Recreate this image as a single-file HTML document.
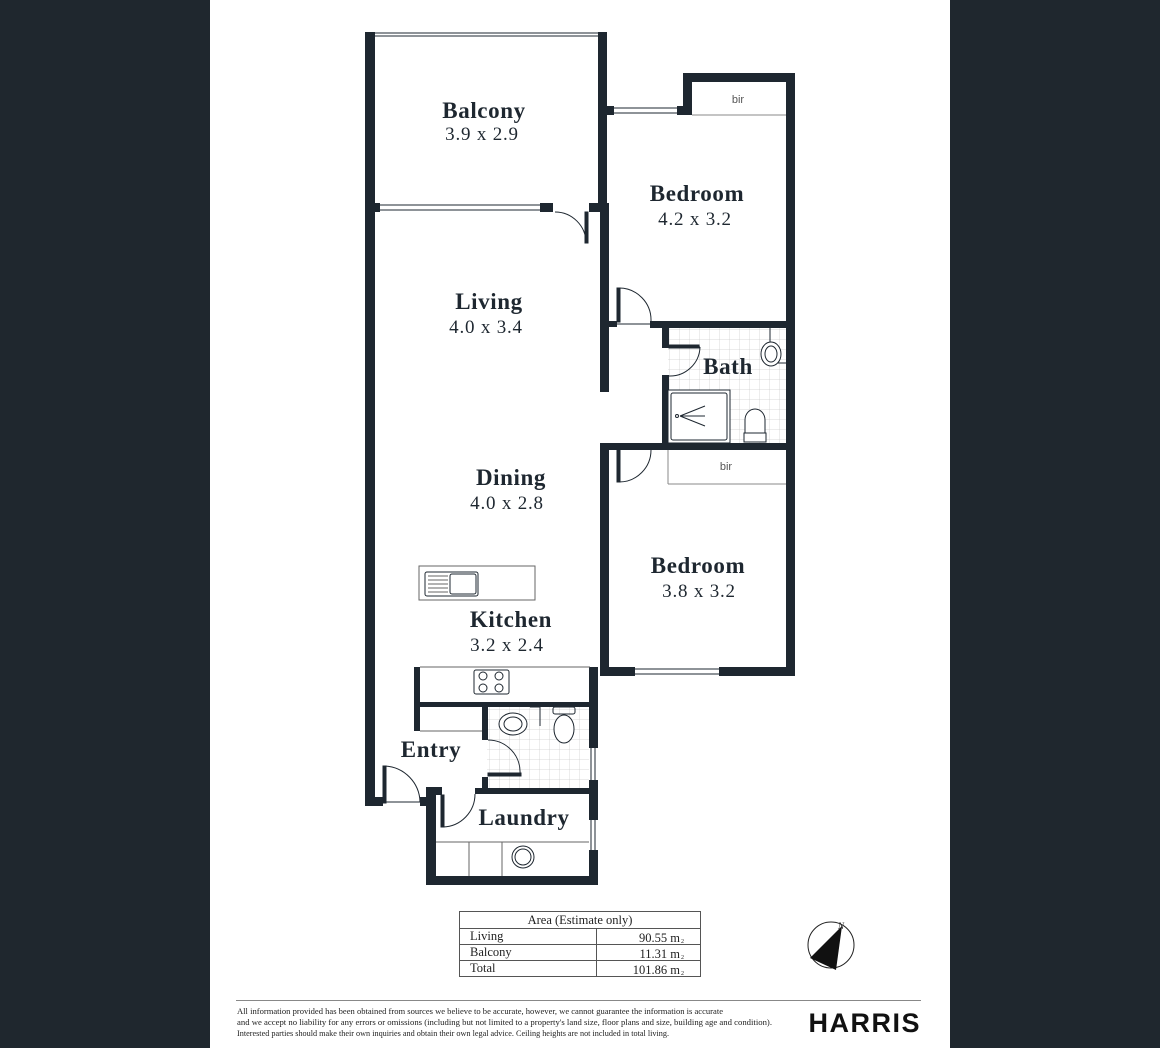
<!DOCTYPE html>
<html><head><meta charset="utf-8"><style>
html,body{margin:0;padding:0;background:#1f272e;}
svg{display:block}
</style></head><body>
<svg width="1160" height="1048" viewBox="0 0 1160 1048" xmlns="http://www.w3.org/2000/svg">
<rect x="0" y="0" width="1160" height="1048" fill="#1f272e"/>
<rect x="210" y="0" width="740" height="1048" fill="#fff"/>
<defs>
<pattern id="tile" width="10" height="10" patternUnits="userSpaceOnUse"><path d="M10 0V10H0" fill="none" stroke="#ccc" stroke-width="0.7"/></pattern>
</defs>
<rect x="668" y="328" width="118" height="115" fill="url(#tile)"/>
<rect x="487" y="707" width="102" height="81" fill="url(#tile)"/>
<g fill="#1e2730">
<rect x="365" y="32" width="10" height="774"/>
<rect x="598" y="32" width="9" height="180"/>
<rect x="365" y="203" width="15" height="9"/>
<rect x="540" y="203" width="13" height="9"/>
<rect x="589" y="203" width="18" height="9"/>
<rect x="600" y="203" width="9" height="189"/>
<rect x="607" y="106" width="7" height="9"/>
<rect x="677" y="106" width="15" height="9"/>
<rect x="683" y="73" width="9" height="42"/>
<rect x="683" y="73" width="112" height="9"/>
<rect x="786" y="73" width="9" height="602"/>
<rect x="600" y="321" width="17" height="6"/>
<rect x="650" y="321" width="145" height="7"/>
<rect x="662" y="321" width="7" height="27"/>
<rect x="662" y="375" width="7" height="75"/>
<rect x="600" y="443" width="195" height="7"/>
<rect x="600" y="443" width="9" height="232"/>
<rect x="600" y="667" width="35" height="9"/>
<rect x="719" y="667" width="76" height="9"/>
<rect x="589" y="667" width="9" height="218"/>
<rect x="414" y="667" width="6" height="64"/>
<rect x="414" y="702" width="176" height="5"/>
<rect x="482" y="707" width="6" height="33"/>
<rect x="482" y="777" width="6" height="16"/>
<rect x="475" y="788" width="122" height="6"/>
<rect x="365" y="797" width="18" height="9"/>
<rect x="420" y="797" width="16" height="9"/>
<rect x="426" y="787" width="16" height="8"/>
<rect x="426" y="787" width="10" height="98"/>
<rect x="426" y="876" width="171" height="9"/>
</g>
<g fill="none" stroke="#1e2730" stroke-width="1">
<line x1="370" y1="33" x2="603" y2="33"/><line x1="370" y1="36" x2="603" y2="36"/>
<line x1="380" y1="205" x2="540" y2="205"/><line x1="380" y1="210" x2="540" y2="210"/>
<line x1="614" y1="108" x2="677" y2="108"/><line x1="614" y1="113" x2="677" y2="113"/>
<line x1="692" y1="115" x2="786" y2="115" stroke="#888"/>
<path d="M586 212 V243 M586 243 A31 31 0 0 0 555 212"/>
<rect x="585" y="212" width="3" height="31" fill="#1e2730"/>
<rect x="617" y="288" width="3" height="34" fill="#1e2730"/>
<path d="M619 288 A32 32 0 0 1 651 321 M617 324 H650"/>
<path d="M669 347 H700 M700 347 A30 30 0 0 1 669 376"/>
<rect x="669" y="345" width="30" height="3" fill="#1e2730"/>
<rect x="668" y="390" width="62" height="53" fill="#fff"/>
<rect x="671" y="393" width="56" height="47" rx="2" fill="#fff"/>
<circle cx="677" cy="416" r="1.5"/>
<path d="M680 416 L705 406 M680 416 L705 416 M680 416 L705 426"/>
<path d="M770 328 V363 H786"/>
<ellipse cx="771" cy="354" rx="10" ry="12" fill="#fff"/><ellipse cx="771" cy="354" rx="6" ry="8"/>
<path d="M745 433 V420 A10 11 0 0 1 765 420 V433" fill="#fff"/><rect x="744" y="433" width="22" height="9" fill="#fff"/>
<line x1="668" y1="484" x2="786" y2="484" stroke="#888"/>
<line x1="668" y1="450" x2="668" y2="484" stroke="#888"/>
<rect x="617" y="450" width="3" height="32" fill="#1e2730"/>
<path d="M619 482 A32 32 0 0 0 651 450"/>
<line x1="635" y1="669" x2="719" y2="669"/><line x1="635" y1="674" x2="719" y2="674"/>
<rect x="419" y="566" width="116" height="34" stroke="#666"/>
<rect x="425" y="572" width="53" height="24" rx="2"/>
<rect x="450" y="574" width="26" height="20" rx="2"/>
<path d="M428 576H448M428 580H448M428 584H448M428 588H448M428 592H448" stroke="#666"/>
<line x1="420" y1="667" x2="590" y2="667" stroke="#666"/>
<rect x="474" y="670" width="35" height="24" rx="2"/>
<circle cx="483" cy="676" r="4"/><circle cx="499" cy="676" r="4"/><circle cx="483" cy="688" r="4"/><circle cx="499" cy="688" r="4"/>
<line x1="420" y1="731" x2="482" y2="731" stroke="#666"/>
<path d="M488 740 A32 32 0 0 1 520 774 M488 775 H520"/><rect x="488" y="773" width="33" height="3" fill="#1e2730"/>
<ellipse cx="513" cy="724" rx="14" ry="11" fill="#fff"/><ellipse cx="513" cy="724" rx="9" ry="7"/>
<path d="M540 707 V726 M530 707 H540"/>
<rect x="553" y="707" width="22" height="7" rx="2"/><ellipse cx="564" cy="729" rx="10" ry="14" fill="#fff"/>
<rect x="383" y="766" width="3" height="37" fill="#1e2730"/>
<path d="M385 766 A37 37 0 0 1 420 802 M383 802 H420"/>
<rect x="441" y="795" width="3" height="32" fill="#1e2730"/>
<path d="M443 827 A33 33 0 0 0 475 794"/>
<line x1="436" y1="842" x2="589" y2="842" stroke="#666"/>
<line x1="469" y1="842" x2="469" y2="876" stroke="#666"/><line x1="502" y1="842" x2="502" y2="876" stroke="#666"/>
<circle cx="523" cy="857" r="11"/><circle cx="523" cy="857" r="8"/>
</g>
<rect x="589" y="748" width="9" height="32" fill="#fff"/>
<rect x="589" y="820" width="9" height="30" fill="#fff"/>
<path d="M591 748V780M595 748V780M591 820V850M595 820V850" stroke="#1e2730" fill="none"/>
<g fill="#1e2730" font-family="'Liberation Serif',serif" text-anchor="middle">
<g font-weight="bold" font-size="23" letter-spacing="0.6">
<text x="484" y="118">Balcony</text>
<text x="697" y="201">Bedroom</text>
<text x="489" y="309">Living</text>
<text x="728" y="374">Bath</text>
<text x="511" y="485">Dining</text>
<text x="698" y="573">Bedroom</text>
<text x="511" y="627">Kitchen</text>
<text x="431" y="757">Entry</text>
<text x="524" y="825">Laundry</text>
</g>
<g font-size="19" letter-spacing="0.8">
<text x="482" y="140">3.9 x 2.9</text>
<text x="695" y="225">4.2 x 3.2</text>
<text x="486" y="333">4.0 x 3.4</text>
<text x="507" y="509">4.0 x 2.8</text>
<text x="699" y="597">3.8 x 3.2</text>
<text x="507" y="651">3.2 x 2.4</text>
</g>
<g font-family="'Liberation Sans',sans-serif" font-size="11" fill="#555">
<text x="738" y="103">bir</text><text x="726" y="470">bir</text>
</g>
</g>
<g fill="none" stroke="#555" stroke-width="1">
<rect x="459.5" y="911.5" width="241" height="65"/>
<line x1="459" y1="928.5" x2="701" y2="928.5"/><line x1="459" y1="944.5" x2="701" y2="944.5"/><line x1="459" y1="960.5" x2="701" y2="960.5"/>
<line x1="596.5" y1="928" x2="596.5" y2="977"/>
</g>
<g font-family="'Liberation Serif',serif" font-size="12.5" fill="#222">
<text x="580" y="924" text-anchor="middle">Area (Estimate only)</text>
<text x="470" y="940">Living</text><text x="470" y="956">Balcony</text><text x="470" y="972">Total</text>
<text x="680" y="942" text-anchor="end">90.55 m</text><text x="680" y="958" text-anchor="end">11.31 m</text><text x="680" y="974" text-anchor="end">101.86 m</text>
<text x="681" y="943" font-size="6">2</text><text x="681" y="959" font-size="6">2</text><text x="681" y="975" font-size="6">2</text>
</g>
<circle cx="831" cy="945" r="23" fill="none" stroke="#222" stroke-width="1"/>
<path d="M842 926 L810 958 L836 970 Z" fill="#111"/>
<text x="838" y="929" font-family="'Liberation Serif',serif" font-style="italic" font-size="9" fill="#222">N</text>
<line x1="236" y1="1000.5" x2="921" y2="1000.5" stroke="#888"/>
<g font-family="'Liberation Serif',serif" font-size="8.5" fill="#222">
<text x="237" y="1014" textLength="486" lengthAdjust="spacingAndGlyphs">All information provided has been obtained from sources we believe to be accurate, however, we cannot guarantee the information is accurate</text>
<text x="237" y="1025" textLength="535" lengthAdjust="spacingAndGlyphs">and we accept no liability for any errors or omissions (including but not  limited to a property's land size, floor plans and size, building age and condition).</text>
<text x="237" y="1036" textLength="432" lengthAdjust="spacingAndGlyphs">Interested parties should make their own inquiries and obtain their own legal advice. Ceiling heights are not included in total living.</text>
</g>
<text x="921" y="1032" text-anchor="end" font-family="'Liberation Sans',sans-serif" font-weight="bold" font-size="27" letter-spacing="1.5" fill="#111">HARRIS</text>
</svg>
</body></html>
